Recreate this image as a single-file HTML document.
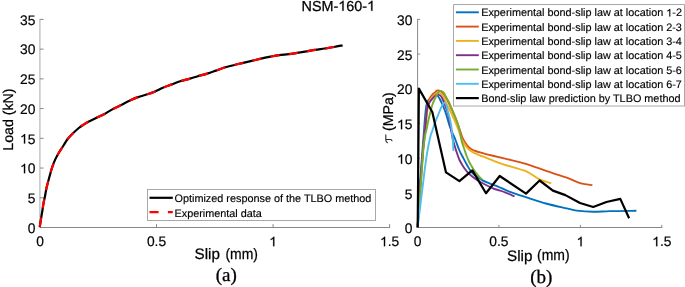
<!DOCTYPE html>
<html><head><meta charset="utf-8"><style>
html,body{margin:0;padding:0;background:#fff;width:685px;height:287px;overflow:hidden}
svg{display:block}
text{text-rendering:geometricPrecision}
.h{fill-opacity:0;stroke-opacity:0}
#w{position:absolute;left:0;top:0;will-change:transform}
.t{font-family:"Liberation Sans", sans-serif;font-size:13.8px;fill:#000;stroke:#000;stroke-width:0.2px}
.lab{font-family:"Liberation Sans", sans-serif;font-size:14.2px;fill:#000;stroke:#000;stroke-width:0.25px}
.labm{font-family:"Liberation Sans", sans-serif;font-size:15.2px;fill:#000;stroke:#000;stroke-width:0.25px}
.labx{font-family:"Liberation Sans", sans-serif;font-size:15.2px;fill:#000;stroke:#000;stroke-width:0.25px}
.lg{font-family:"Liberation Sans", sans-serif;font-size:10.85px;fill:#000;stroke:#000;stroke-width:0.15px}
.tau{font-family:"Liberation Sans", sans-serif;font-style:italic;font-size:14.5px;fill:#000;stroke:#000;stroke-width:0.1px}
.cap{font-family:"Liberation Serif", serif;font-size:19px;fill:#000;stroke:#000;stroke-width:0.3px}
</style></head><body>
<div id="w"><svg width="685" height="287" viewBox="0 0 685 287">
<line x1="40.0" y1="227.5" x2="390.1" y2="227.5" stroke="#888888" stroke-width="1"/>
<line x1="39.9" y1="18.9" x2="39.9" y2="227.5" stroke="#b8b8b8" stroke-width="1.2"/>
<line x1="39.9" y1="227.50" x2="43.6" y2="227.50" stroke="#888888" stroke-width="1"/>
<text x="35.4" y="232.80" text-anchor="end" class="t">0</text>
<line x1="39.9" y1="197.77" x2="43.6" y2="197.77" stroke="#888888" stroke-width="1"/>
<text x="35.4" y="203.07" text-anchor="end" class="t">5</text>
<line x1="39.9" y1="168.04" x2="43.6" y2="168.04" stroke="#888888" stroke-width="1"/>
<text x="35.4" y="173.34" text-anchor="end" class="t"><tspan class="h">1</tspan>0</text>
<line x1="39.9" y1="138.31" x2="43.6" y2="138.31" stroke="#888888" stroke-width="1"/>
<text x="35.4" y="143.61" text-anchor="end" class="t"><tspan class="h">1</tspan>5</text>
<line x1="39.9" y1="108.59" x2="43.6" y2="108.59" stroke="#888888" stroke-width="1"/>
<text x="35.4" y="113.89" text-anchor="end" class="t">20</text>
<line x1="39.9" y1="78.86" x2="43.6" y2="78.86" stroke="#888888" stroke-width="1"/>
<text x="35.4" y="84.16" text-anchor="end" class="t">25</text>
<line x1="39.9" y1="49.13" x2="43.6" y2="49.13" stroke="#888888" stroke-width="1"/>
<text x="35.4" y="54.43" text-anchor="end" class="t">30</text>
<line x1="39.9" y1="19.40" x2="43.6" y2="19.40" stroke="#888888" stroke-width="1"/>
<text x="35.4" y="24.70" text-anchor="end" class="t">35</text>
<line x1="40.00" y1="227.5" x2="40.00" y2="224.10" stroke="#888888" stroke-width="1"/>
<text x="40.00" y="246.3" text-anchor="middle" class="t">0</text>
<line x1="156.53" y1="227.5" x2="156.53" y2="224.10" stroke="#888888" stroke-width="1"/>
<text x="156.53" y="246.3" text-anchor="middle" class="t">0.5</text>
<line x1="273.07" y1="227.5" x2="273.07" y2="224.10" stroke="#888888" stroke-width="1"/>
<text x="273.07" y="246.3" text-anchor="middle" class="t"><tspan class="h">1</tspan></text>
<line x1="389.60" y1="227.5" x2="389.60" y2="224.10" stroke="#888888" stroke-width="1"/>
<text x="389.60" y="246.3" text-anchor="middle" class="t"><tspan class="h">1</tspan>.5</text>
<line x1="417.5" y1="227.5" x2="662.3" y2="227.5" stroke="#888888" stroke-width="1"/>
<line x1="417.6" y1="18.9" x2="417.6" y2="227.5" stroke="#888888" stroke-width="1"/>
<line x1="417.5" y1="227.50" x2="420.1" y2="227.50" stroke="#888888" stroke-width="1"/>
<text x="412.4" y="233.20" text-anchor="end" class="t">0</text>
<line x1="417.5" y1="192.82" x2="420.1" y2="192.82" stroke="#888888" stroke-width="1"/>
<text x="412.4" y="198.52" text-anchor="end" class="t">5</text>
<line x1="417.5" y1="158.13" x2="420.1" y2="158.13" stroke="#888888" stroke-width="1"/>
<text x="412.4" y="163.83" text-anchor="end" class="t"><tspan class="h">1</tspan>0</text>
<line x1="417.5" y1="123.45" x2="420.1" y2="123.45" stroke="#888888" stroke-width="1"/>
<text x="412.4" y="129.15" text-anchor="end" class="t"><tspan class="h">1</tspan>5</text>
<line x1="417.5" y1="88.77" x2="420.1" y2="88.77" stroke="#888888" stroke-width="1"/>
<text x="412.4" y="94.47" text-anchor="end" class="t">20</text>
<line x1="417.5" y1="54.08" x2="420.1" y2="54.08" stroke="#888888" stroke-width="1"/>
<text x="412.4" y="59.78" text-anchor="end" class="t">25</text>
<line x1="417.5" y1="19.40" x2="420.1" y2="19.40" stroke="#888888" stroke-width="1"/>
<text x="412.4" y="25.10" text-anchor="end" class="t">30</text>
<line x1="417.50" y1="227.5" x2="417.50" y2="224.90" stroke="#888888" stroke-width="1"/>
<text x="417.50" y="246.3" text-anchor="middle" class="t">0</text>
<line x1="498.93" y1="227.5" x2="498.93" y2="224.90" stroke="#888888" stroke-width="1"/>
<text x="498.93" y="246.3" text-anchor="middle" class="t">0.5</text>
<line x1="580.37" y1="227.5" x2="580.37" y2="224.90" stroke="#888888" stroke-width="1"/>
<text x="580.37" y="246.3" text-anchor="middle" class="t"><tspan class="h">1</tspan></text>
<line x1="661.80" y1="227.5" x2="661.80" y2="224.90" stroke="#888888" stroke-width="1"/>
<text x="661.80" y="246.3" text-anchor="middle" class="t"><tspan class="h">1</tspan>.5</text>
<path d="M39.70,227.20 C39.93,225.72 40.65,221.08 41.10,218.30 C41.55,215.52 41.98,213.12 42.40,210.50 C42.82,207.88 43.17,204.98 43.60,202.60 C44.03,200.22 44.52,198.63 45.00,196.20 C45.48,193.77 45.95,190.53 46.50,188.00 C47.05,185.47 47.68,183.33 48.30,181.00 C48.92,178.67 49.52,176.40 50.20,174.00 C50.88,171.60 51.52,169.12 52.40,166.60 C53.28,164.08 54.35,161.33 55.50,158.90 C56.65,156.47 57.97,154.23 59.30,152.00 C60.63,149.77 62.17,147.58 63.50,145.50 C64.83,143.42 65.80,141.45 67.30,139.50 C68.80,137.55 70.58,135.72 72.50,133.80 C74.42,131.88 76.88,129.57 78.80,128.00 C80.72,126.43 82.38,125.43 84.00,124.40 C85.62,123.37 86.48,122.87 88.50,121.80 C90.52,120.73 93.52,119.25 96.10,118.00 C98.68,116.75 101.38,115.70 104.00,114.30 C106.62,112.90 109.10,111.08 111.80,109.60 C114.50,108.12 117.17,106.92 120.20,105.40 C123.23,103.88 127.15,101.83 130.00,100.50 C132.85,99.17 134.68,98.35 137.30,97.40 C139.92,96.45 142.82,95.75 145.70,94.80 C148.58,93.85 151.65,92.92 154.60,91.70 C157.55,90.48 160.53,88.72 163.40,87.50 C166.27,86.28 169.00,85.45 171.80,84.40 C174.60,83.35 177.17,82.17 180.20,81.20 C183.23,80.23 187.05,79.43 190.00,78.60 C192.95,77.77 195.05,77.03 197.90,76.20 C200.75,75.37 204.10,74.53 207.10,73.60 C210.10,72.67 212.98,71.62 215.90,70.60 C218.82,69.58 221.67,68.40 224.60,67.50 C227.53,66.60 230.58,65.93 233.50,65.20 C236.42,64.47 239.08,63.82 242.10,63.10 C245.12,62.38 248.43,61.65 251.60,60.90 C254.77,60.15 257.95,59.30 261.10,58.60 C264.25,57.90 267.50,57.27 270.50,56.70 C273.50,56.13 276.08,55.62 279.10,55.20 C282.12,54.78 285.60,54.58 288.60,54.20 C291.60,53.82 294.10,53.37 297.10,52.90 C300.10,52.43 303.60,51.90 306.60,51.40 C309.60,50.90 312.10,50.38 315.10,49.90 C318.10,49.42 321.43,48.98 324.60,48.50 C327.77,48.02 331.10,47.53 334.10,47.00 C337.10,46.47 341.18,45.58 342.60,45.30" fill="none" stroke="#000" stroke-width="2.2" stroke-linejoin="round"/>
<path d="M39.70,227.20 C39.93,225.72 40.65,221.08 41.10,218.30 C41.55,215.52 41.98,213.12 42.40,210.50 C42.82,207.88 43.17,204.98 43.60,202.60 C44.03,200.22 44.52,198.63 45.00,196.20 C45.48,193.77 45.95,190.53 46.50,188.00 C47.05,185.47 47.68,183.33 48.30,181.00 C48.92,178.67 49.52,176.40 50.20,174.00 C50.88,171.60 51.52,169.12 52.40,166.60 C53.28,164.08 54.35,161.33 55.50,158.90 C56.65,156.47 57.97,154.23 59.30,152.00 C60.63,149.77 62.17,147.58 63.50,145.50 C64.83,143.42 65.80,141.45 67.30,139.50 C68.80,137.55 70.58,135.72 72.50,133.80 C74.42,131.88 76.88,129.57 78.80,128.00 C80.72,126.43 82.38,125.43 84.00,124.40 C85.62,123.37 86.48,122.87 88.50,121.80 C90.52,120.73 93.52,119.25 96.10,118.00 C98.68,116.75 101.38,115.70 104.00,114.30 C106.62,112.90 109.10,111.08 111.80,109.60 C114.50,108.12 117.17,106.92 120.20,105.40 C123.23,103.88 127.15,101.83 130.00,100.50 C132.85,99.17 134.68,98.35 137.30,97.40 C139.92,96.45 142.82,95.75 145.70,94.80 C148.58,93.85 151.65,92.92 154.60,91.70 C157.55,90.48 160.53,88.72 163.40,87.50 C166.27,86.28 169.00,85.45 171.80,84.40 C174.60,83.35 177.17,82.17 180.20,81.20 C183.23,80.23 187.05,79.43 190.00,78.60 C192.95,77.77 195.05,77.03 197.90,76.20 C200.75,75.37 204.10,74.53 207.10,73.60 C210.10,72.67 212.98,71.62 215.90,70.60 C218.82,69.58 221.67,68.40 224.60,67.50 C227.53,66.60 230.58,65.93 233.50,65.20 C236.42,64.47 239.08,63.82 242.10,63.10 C245.12,62.38 248.43,61.65 251.60,60.90 C254.77,60.15 257.95,59.30 261.10,58.60 C264.25,57.90 267.50,57.27 270.50,56.70 C273.50,56.13 276.08,55.62 279.10,55.20 C282.12,54.78 285.60,54.58 288.60,54.20 C291.60,53.82 294.10,53.37 297.10,52.90 C300.10,52.43 303.60,51.90 306.60,51.40 C309.60,50.90 312.10,50.38 315.10,49.90 C318.10,49.42 321.43,48.98 324.60,48.50 C327.77,48.02 331.10,47.53 334.10,47.00 C337.10,46.47 341.18,45.58 342.60,45.30" fill="none" stroke="#ff0000" stroke-width="2.2" stroke-dasharray="9.2 9.29" stroke-dashoffset="-0.6"/>
<path d="M417.60,227.30 C417.88,221.92 418.73,204.55 419.30,195.00 C419.87,185.45 420.47,177.50 421.00,170.00 C421.53,162.50 422.07,155.67 422.50,150.00 C422.93,144.33 423.20,141.20 423.60,136.00 C424.00,130.80 424.47,123.75 424.90,118.80 C425.33,113.85 425.75,109.18 426.20,106.30 C426.65,103.42 426.97,102.78 427.60,101.50 C428.23,100.22 429.18,99.48 430.00,98.60 C430.82,97.72 431.75,96.77 432.50,96.20 C433.25,95.63 433.88,95.38 434.50,95.20 C435.12,95.02 435.65,94.97 436.20,95.10 C436.75,95.23 437.17,95.27 437.80,96.00 C438.43,96.73 439.23,98.08 440.00,99.50 C440.77,100.92 441.40,102.13 442.40,104.50 C443.40,106.87 444.85,110.28 446.00,113.70 C447.15,117.12 448.22,121.78 449.30,125.00 C450.38,128.22 451.47,130.50 452.50,133.00 C453.53,135.50 454.38,137.17 455.50,140.00 C456.62,142.83 458.03,147.25 459.20,150.00 C460.37,152.75 461.20,154.00 462.50,156.50 C463.80,159.00 465.50,162.42 467.00,165.00 C468.50,167.58 469.55,169.83 471.50,172.00 C473.45,174.17 476.87,176.62 478.70,178.00 C480.53,179.38 481.10,179.57 482.50,180.30 C483.90,181.03 485.35,181.65 487.10,182.40 C488.85,183.15 491.18,184.10 493.00,184.80 C494.82,185.50 495.17,185.42 498.00,186.60 C500.83,187.78 505.00,190.03 510.00,191.90 C515.00,193.77 522.02,195.87 528.00,197.80 C533.98,199.73 539.43,201.73 545.90,203.50 C552.37,205.27 561.67,207.22 566.80,208.40 C571.93,209.58 572.32,210.03 576.70,210.60 C581.08,211.17 587.57,211.72 593.10,211.80 C598.63,211.88 602.68,211.27 609.90,211.10 C617.12,210.93 631.98,210.85 636.40,210.80" fill="none" stroke="#0072BD" stroke-width="1.9" stroke-linejoin="round"/>
<path d="M417.60,227.30 C417.95,221.92 419.05,204.55 419.70,195.00 C420.35,185.45 420.95,177.50 421.50,170.00 C422.05,162.50 422.55,155.67 423.00,150.00 C423.45,144.33 423.80,140.17 424.20,136.00 C424.60,131.83 425.02,128.83 425.40,125.00 C425.78,121.17 426.15,116.25 426.50,113.00 C426.85,109.75 427.13,107.50 427.50,105.50 C427.87,103.50 428.28,102.25 428.70,101.00 C429.12,99.75 429.37,99.10 430.00,98.00 C430.63,96.90 431.67,95.33 432.50,94.40 C433.33,93.47 434.32,93.00 435.00,92.40 C435.68,91.80 436.15,91.13 436.60,90.80 C437.05,90.47 437.13,90.42 437.70,90.40 C438.27,90.38 439.03,90.13 440.00,90.70 C440.97,91.27 442.33,92.33 443.50,93.80 C444.67,95.27 445.50,96.63 447.00,99.50 C448.50,102.37 450.70,106.92 452.50,111.00 C454.30,115.08 456.47,120.50 457.80,124.00 C459.13,127.50 459.67,129.58 460.50,132.00 C461.33,134.42 462.05,136.78 462.80,138.50 C463.55,140.22 464.05,140.88 465.00,142.30 C465.95,143.72 467.42,145.85 468.50,147.00 C469.58,148.15 470.33,148.53 471.50,149.20 C472.67,149.87 473.67,150.37 475.50,151.00 C477.33,151.63 479.75,152.25 482.50,153.00 C485.25,153.75 488.25,154.57 492.00,155.50 C495.75,156.43 499.35,157.22 505.00,158.60 C510.65,159.98 518.93,161.70 525.90,163.80 C532.87,165.90 539.98,168.88 546.80,171.20 C553.62,173.52 561.12,175.67 566.80,177.70 C572.48,179.73 576.63,182.17 580.90,183.40 C585.17,184.63 590.48,184.82 592.40,185.10" fill="none" stroke="#D95319" stroke-width="1.9" stroke-linejoin="round"/>
<path d="M417.60,227.30 C417.98,221.92 419.20,204.55 419.90,195.00 C420.60,185.45 421.22,177.50 421.80,170.00 C422.38,162.50 422.92,155.67 423.40,150.00 C423.88,144.33 424.28,140.17 424.70,136.00 C425.12,131.83 425.50,128.83 425.90,125.00 C426.30,121.17 426.70,116.25 427.10,113.00 C427.50,109.75 427.82,107.60 428.30,105.50 C428.78,103.40 429.30,101.85 430.00,100.40 C430.70,98.95 431.67,97.80 432.50,96.80 C433.33,95.80 434.20,95.02 435.00,94.40 C435.80,93.78 436.57,93.35 437.30,93.10 C438.03,92.85 438.70,92.75 439.40,92.90 C440.10,93.05 440.90,93.48 441.50,94.00 C442.10,94.52 442.15,94.33 443.00,96.00 C443.85,97.67 445.35,101.42 446.60,104.00 C447.85,106.58 448.97,108.33 450.50,111.50 C452.03,114.67 454.47,119.92 455.80,123.00 C457.13,126.08 457.63,127.58 458.50,130.00 C459.37,132.42 460.12,135.33 461.00,137.50 C461.88,139.67 462.88,141.42 463.80,143.00 C464.72,144.58 465.55,145.83 466.50,147.00 C467.45,148.17 468.25,149.03 469.50,150.00 C470.75,150.97 472.00,151.80 474.00,152.80 C476.00,153.80 478.50,154.77 481.50,156.00 C484.50,157.23 488.08,158.72 492.00,160.20 C495.92,161.68 499.35,163.07 505.00,164.90 C510.65,166.73 520.23,168.83 525.90,171.20 C531.57,173.57 534.77,177.08 539.00,179.10 C543.23,181.12 549.25,182.60 551.30,183.30" fill="none" stroke="#EDB120" stroke-width="1.9" stroke-linejoin="round"/>
<path d="M417.60,227.30 C417.93,221.92 418.97,204.55 419.60,195.00 C420.23,185.45 420.83,177.50 421.40,170.00 C421.97,162.50 422.52,155.67 423.00,150.00 C423.48,144.33 423.88,140.17 424.30,136.00 C424.72,131.83 425.13,128.67 425.50,125.00 C425.87,121.33 426.17,117.03 426.50,114.00 C426.83,110.97 427.03,108.68 427.50,106.80 C427.97,104.92 428.58,103.95 429.30,102.70 C430.02,101.45 430.93,100.35 431.80,99.30 C432.67,98.25 433.70,97.10 434.50,96.40 C435.30,95.70 435.92,95.37 436.60,95.10 C437.28,94.83 437.90,94.65 438.60,94.80 C439.30,94.95 440.03,95.05 440.80,96.00 C441.57,96.95 442.42,98.77 443.20,100.50 C443.98,102.23 444.60,103.85 445.50,106.40 C446.40,108.95 447.78,112.53 448.60,115.80 C449.42,119.07 449.67,121.97 450.40,126.00 C451.13,130.03 451.97,135.67 453.00,140.00 C454.03,144.33 455.52,148.67 456.60,152.00 C457.68,155.33 458.40,157.58 459.50,160.00 C460.60,162.42 462.03,164.67 463.20,166.50 C464.37,168.33 465.45,169.72 466.50,171.00 C467.55,172.28 467.75,172.70 469.50,174.20 C471.25,175.70 474.58,178.37 477.00,180.00 C479.42,181.63 481.33,182.62 484.00,184.00 C486.67,185.38 490.67,187.30 493.00,188.30 C495.33,189.30 496.00,189.33 498.00,190.00 C500.00,190.67 502.25,191.23 505.00,192.30 C507.75,193.37 512.92,195.72 514.50,196.40" fill="none" stroke="#7E2F8E" stroke-width="1.9" stroke-linejoin="round"/>
<path d="M417.60,227.30 C417.93,222.75 418.95,208.72 419.60,200.00 C420.25,191.28 420.90,183.33 421.50,175.00 C422.10,166.67 422.58,156.67 423.20,150.00 C423.82,143.33 424.67,138.33 425.20,135.00 C425.73,131.67 425.93,132.17 426.40,130.00 C426.87,127.83 427.28,125.20 428.00,122.00 C428.72,118.80 429.90,113.88 430.70,110.80 C431.50,107.72 432.05,105.57 432.80,103.50 C433.55,101.43 434.52,99.90 435.20,98.40 C435.88,96.90 436.35,95.58 436.90,94.50 C437.45,93.42 437.92,92.50 438.50,91.90 C439.08,91.30 439.72,90.93 440.40,90.90 C441.08,90.87 441.97,91.30 442.60,91.70 C443.23,92.10 443.72,92.58 444.20,93.30 C444.68,94.02 444.75,94.60 445.50,96.00 C446.25,97.40 447.67,99.62 448.70,101.70 C449.73,103.78 450.42,105.45 451.70,108.50 C452.98,111.55 455.35,117.33 456.40,120.00 C457.45,122.67 457.40,122.50 458.00,124.50 C458.60,126.50 459.37,129.17 460.00,132.00 C460.63,134.83 461.03,138.50 461.80,141.50 C462.57,144.50 463.82,147.67 464.60,150.00 C465.38,152.33 465.77,153.58 466.50,155.50 C467.23,157.42 468.17,159.75 469.00,161.50 C469.83,163.25 470.58,164.43 471.50,166.00 C472.42,167.57 473.42,169.35 474.50,170.90 C475.58,172.45 476.78,173.90 478.00,175.30 C479.22,176.70 481.17,178.63 481.80,179.30" fill="none" stroke="#77AC30" stroke-width="1.9" stroke-linejoin="round"/>
<path d="M417.60,227.30 C418.25,222.08 420.27,205.97 421.50,196.00 C422.73,186.03 423.98,175.17 425.00,167.50 C426.02,159.83 426.68,155.25 427.60,150.00 C428.52,144.75 429.67,139.33 430.50,136.00 C431.33,132.67 431.97,131.92 432.60,130.00 C433.23,128.08 433.73,126.17 434.30,124.50 C434.87,122.83 435.30,121.75 436.00,120.00 C436.70,118.25 437.67,116.03 438.50,114.00 C439.33,111.97 440.30,109.38 441.00,107.80 C441.70,106.22 442.23,105.32 442.70,104.50 C443.17,103.68 443.43,103.17 443.80,102.90 C444.17,102.63 444.48,102.52 444.90,102.90 C445.32,103.28 445.82,103.82 446.30,105.20 C446.78,106.58 447.22,108.98 447.80,111.20 C448.38,113.42 449.23,116.03 449.80,118.50 C450.37,120.97 450.78,123.25 451.20,126.00 C451.62,128.75 452.00,132.17 452.30,135.00 C452.60,137.83 452.82,140.33 453.00,143.00 C453.18,145.67 453.33,149.67 453.40,151.00" fill="none" stroke="#4DBEEE" stroke-width="1.9" stroke-linejoin="round"/>
<path d="M417.70,227.50 L418.90,88.60 L432.30,112.00 L446.00,172.40 L459.40,181.20 L472.30,170.40 L486.00,193.20 L499.70,176.00 L526.00,193.60 L539.60,180.50 L552.90,190.60 L565.40,195.10 L580.00,203.00 L593.20,207.00 L606.40,202.00 L620.30,198.90 L629.10,218.20" fill="none" stroke="#000" stroke-width="2.2" stroke-linejoin="round"/>
<rect x="147.5" y="189.5" width="228" height="31" fill="#fff" stroke="#a8a8a8" stroke-width="1"/>
<line x1="149.5" y1="197.8" x2="172.8" y2="197.8" stroke="#000" stroke-width="2.2"/>
<line x1="149.5" y1="212.2" x2="172.8" y2="212.2" stroke="#ff0000" stroke-width="2.2" stroke-dasharray="9.1 9.3"/>
<text x="174.5" y="201.8" class="lg">Optimized response of the TLBO method</text>
<text x="174.5" y="216.6" class="lg">Experimental data</text>
<rect x="453" y="4" width="232" height="102.5" fill="#fff"/>
<path d="M453.5,106 L453.5,4.5 L684.5,4.5 L684.5,106" fill="none" stroke="#a8a8a8" stroke-width="1"/>
<line x1="453" y1="106" x2="685" y2="106" stroke="#a8a8a8" stroke-width="1"/>
<line x1="455.9" y1="12.30" x2="478.8" y2="12.30" stroke="#0072BD" stroke-width="1.9"/>
<text x="481.2" y="16.40" class="lg">Experimental bond-slip law at location <tspan class="h">1</tspan>-2</text>
<line x1="455.9" y1="26.60" x2="478.8" y2="26.60" stroke="#D95319" stroke-width="1.9"/>
<text x="481.2" y="30.70" class="lg">Experimental bond-slip law at location 2-3</text>
<line x1="455.9" y1="40.90" x2="478.8" y2="40.90" stroke="#EDB120" stroke-width="1.9"/>
<text x="481.2" y="45.00" class="lg">Experimental bond-slip law at location 3-4</text>
<line x1="455.9" y1="55.20" x2="478.8" y2="55.20" stroke="#7E2F8E" stroke-width="1.9"/>
<text x="481.2" y="59.30" class="lg">Experimental bond-slip law at location 4-5</text>
<line x1="455.9" y1="69.50" x2="478.8" y2="69.50" stroke="#77AC30" stroke-width="1.9"/>
<text x="481.2" y="73.60" class="lg">Experimental bond-slip law at location 5-6</text>
<line x1="455.9" y1="83.80" x2="478.8" y2="83.80" stroke="#4DBEEE" stroke-width="1.9"/>
<text x="481.2" y="87.90" class="lg">Experimental bond-slip law at location 6-7</text>
<line x1="455.9" y1="98.10" x2="478.8" y2="98.10" stroke="#000" stroke-width="2.2"/>
<text x="481.2" y="102.20" class="lg">Bond-slip law prediction by TLBO method</text>
<text x="338.3" y="10.7" text-anchor="middle" class="lab" style="font-size:14.4px">NSM-<tspan class="h">1</tspan>60-<tspan class="h">1</tspan></text>
<text x="194.5" y="259.3" class="labx">Slip</text><text x="225.4" y="259.4" class="labm" textLength="32.6" lengthAdjust="spacingAndGlyphs">(mm)</text>
<text x="507.1" y="261.4" class="labx">Slip</text><text x="537.05" y="260.1" class="labm" textLength="32.6" lengthAdjust="spacingAndGlyphs">(mm)</text>
<text transform="translate(13.4,119.6) rotate(-90)" text-anchor="middle" class="lab">Load (kN)</text>
<text transform="translate(392.6,131) rotate(-90)" class="lab">(MPa)</text>
<path d="M387.4,142.7 Q385.9,141.7 385.8,140.3 L385.8,134.9 M385.8,139.5 L390.6,139.5 Q391.7,139.7 392,140.8" fill="none" stroke="#2a2a2a" stroke-width="1.1" stroke-linecap="round"/>
<text x="226.35" y="281.2" text-anchor="middle" class="cap">(a)</text>
<text x="541.35" y="283.1" text-anchor="middle" class="cap">(b)</text>
<path d="M23.93,173.34 L23.93,165.79 L22.92,166.53 L21.47,167.07 L21.47,165.93 L22.86,165.25 L23.80,164.45 L24.20,163.85 L25.15,163.85 L25.15,173.34Z" fill="#000" stroke="#000" stroke-width="0.2"/>
<path d="M23.93,143.61 L23.93,136.06 L22.92,136.80 L21.47,137.34 L21.47,136.20 L22.86,135.52 L23.80,134.72 L24.20,134.12 L25.15,134.12 L25.15,143.61Z" fill="#000" stroke="#000" stroke-width="0.2"/>
<path d="M273.13,246.30 L273.13,238.75 L272.12,239.49 L270.67,240.03 L270.67,238.89 L272.06,238.21 L273.00,237.41 L273.40,236.81 L274.35,236.81 L274.35,246.30Z" fill="#000" stroke="#000" stroke-width="0.2"/>
<path d="M383.91,246.30 L383.91,238.75 L382.90,239.49 L381.45,240.03 L381.45,238.89 L382.83,238.21 L383.77,237.41 L384.18,236.81 L385.12,236.81 L385.12,246.30Z" fill="#000" stroke="#000" stroke-width="0.2"/>
<path d="M400.93,163.83 L400.93,156.28 L399.92,157.02 L398.47,157.56 L398.47,156.42 L399.86,155.74 L400.80,154.94 L401.20,154.34 L402.15,154.34 L402.15,163.83Z" fill="#000" stroke="#000" stroke-width="0.2"/>
<path d="M400.93,129.15 L400.93,121.60 L399.92,122.34 L398.47,122.88 L398.47,121.74 L399.86,121.06 L400.80,120.26 L401.20,119.66 L402.15,119.66 L402.15,129.15Z" fill="#000" stroke="#000" stroke-width="0.2"/>
<path d="M580.43,246.30 L580.43,238.75 L579.42,239.49 L577.97,240.03 L577.97,238.89 L579.36,238.21 L580.30,237.41 L580.70,236.81 L581.65,236.81 L581.65,246.30Z" fill="#000" stroke="#000" stroke-width="0.2"/>
<path d="M656.11,246.30 L656.11,238.75 L655.10,239.49 L653.65,240.03 L653.65,238.89 L655.03,238.21 L655.97,237.41 L656.38,236.81 L657.32,236.81 L657.32,246.30Z" fill="#000" stroke="#000" stroke-width="0.2"/>
<path d="M669.32,16.40 L669.32,10.47 L668.52,11.05 L667.39,11.47 L667.39,10.57 L668.47,10.04 L669.21,9.41 L669.53,8.94 L670.27,8.94 L670.27,16.40Z" fill="#000" stroke="#000" stroke-width="0.15"/>
<path d="M342.35,10.70 L342.35,2.82 L341.29,3.60 L339.78,4.16 L339.78,2.97 L341.22,2.26 L342.21,1.42 L342.63,0.79 L343.61,0.79 L343.61,10.70Z" fill="#000" stroke="#000" stroke-width="0.25"/>
<path d="M371.17,10.70 L371.17,2.82 L370.12,3.60 L368.61,4.16 L368.61,2.97 L370.05,2.26 L371.03,1.42 L371.46,0.79 L372.44,0.79 L372.44,10.70Z" fill="#000" stroke="#000" stroke-width="0.25"/>
</svg></div>
</body></html>
